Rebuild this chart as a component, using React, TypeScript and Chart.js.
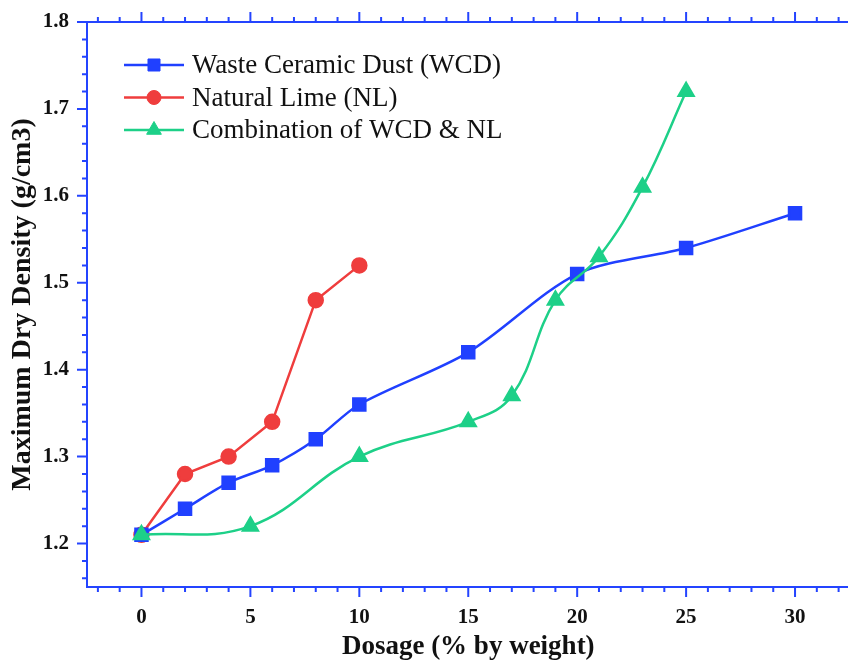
import React, { useEffect, useRef } from 'react';
import { Chart, registerables } from 'chart.js';
import { drawPoint } from 'chart.js/helpers';

Chart.register(...registerables);

const seriesLabels = ['Waste Ceramic Dust (WCD)', 'Natural Lime (NL)', 'Combination of WCD & NL'];
const wcdX = [0, 2, 4, 6, 8, 10, 15, 20, 25, 30];
const wcdY = [1.21, 1.24, 1.27, 1.29, 1.32, 1.36, 1.42, 1.51, 1.54, 1.58];
const nlX = [0, 2, 4, 6, 8, 10];
const nlY = [1.21, 1.28, 1.30, 1.34, 1.48, 1.52];
const comboX = [0, 5, 10, 15, 17, 19, 21, 23, 25];
const comboY = [1.21, 1.22, 1.30, 1.34, 1.37, 1.48, 1.53, 1.61, 1.72];
const xTickValues = [0, 5, 10, 15, 20, 25, 30];
const yTickValues = [1.2, 1.3, 1.4, 1.5, 1.6, 1.7, 1.8];

const AXIS = '#2444ff';
const BLUE = '#2040ff';
const RED = '#ef3d3d';
const GREEN = '#1dd088';
const SERIF = '"Liberation Serif", "Times New Roman", serif';

const toPoints = (xs: number[], ys: number[]) => xs.map((x, i) => ({ x, y: ys[i] }));

const framePlugin = {
  id: 'frameTicks',
  afterDraw(chart: any) {
    const { ctx, chartArea } = chart;
    const { left, right, top, bottom } = chartArea;
    const xs = chart.scales.x;
    const ys = chart.scales.y;
    ctx.save();
    ctx.strokeStyle = AXIS;
    ctx.lineWidth = 2;
    ctx.beginPath();
    ctx.moveTo(left, top);
    ctx.lineTo(right, top);
    ctx.lineTo(right, bottom);
    ctx.lineTo(left, bottom);
    ctx.closePath();
    ctx.stroke();
    ctx.beginPath();
    for (let v = -2; v <= 32; v++) {
      const p = xs.getPixelForValue(v);
      const len = v % 5 === 0 ? 10 : 5;
      ctx.moveTo(p, bottom);
      ctx.lineTo(p, bottom + len);
      ctx.moveTo(p, top);
      ctx.lineTo(p, top - len);
    }
    for (let k = 58; k <= 90; k++) {
      const v = k / 50;
      const p = ys.getPixelForValue(v);
      const len = k % 5 === 0 ? 10 : 5;
      ctx.moveTo(left, p);
      ctx.lineTo(left - len, p);
      ctx.moveTo(right, p);
      ctx.lineTo(right + len, p);
    }
    ctx.stroke();
    ctx.restore();
  },
};

const legendPlugin = {
  id: 'insideLegend',
  afterDraw(chart: any) {
    const { ctx } = chart;
    ctx.save();
    chart.data.datasets.forEach((ds: any, i: number) => {
      const y = 65 + i * 32.5;
      ctx.strokeStyle = ds.borderColor;
      ctx.lineWidth = 2.5;
      ctx.beginPath();
      ctx.moveTo(124, y);
      ctx.lineTo(184, y);
      ctx.stroke();
      ctx.fillStyle = ds.backgroundColor;
      ctx.strokeStyle = ds.borderColor;
      ctx.lineWidth = 1;
      drawPoint(ctx, { pointStyle: ds.pointStyle, radius: ds.pointRadius, rotation: 0, borderWidth: 1 }, 154, y);
      ctx.fillStyle = '#111';
      ctx.font = `27px ${SERIF}`;
      ctx.textBaseline = 'middle';
      ctx.textAlign = 'left';
      ctx.fillText(ds.label, 192, y + 1);
    });
    ctx.restore();
  },
};

export default function App() {
  const ref = useRef<HTMLCanvasElement | null>(null);
  useEffect(() => {
    if (!ref.current) return;
    const chart = new Chart(ref.current, {
      type: 'line',
      data: {
        datasets: [
          { label: seriesLabels[0], data: toPoints(wcdX, wcdY), borderColor: BLUE, backgroundColor: BLUE, borderWidth: 2.5, pointStyle: 'rect', pointRadius: 8.5, tension: 0.3, order: 1 },
          { label: seriesLabels[1], data: toPoints(nlX, nlY), borderColor: RED, backgroundColor: RED, borderWidth: 2.5, pointStyle: 'circle', pointRadius: 7, tension: 0, order: 2 },
          { label: seriesLabels[2], data: toPoints(comboX, comboY), borderColor: GREEN, backgroundColor: GREEN, borderWidth: 2.5, pointStyle: 'triangle', pointRadius: 8.5, tension: 0.4, order: 0 },
        ],
      },
      options: {
        animation: false,
        responsive: false,
        devicePixelRatio: 1,
        layout: { autoPadding: false, padding: { top: 22, right: 2.5, left: 0, bottom: 0 } },
        plugins: { legend: { display: false }, tooltip: { enabled: false } },
        scales: {
          x: {
            type: 'linear',
            min: -2.5,
            max: 32.5,
            afterBuildTicks: (s: any) => { s.ticks = xTickValues.map((v) => ({ value: v })); },
            afterFit: (s: any) => { s.height = 76; s.paddingLeft = 0; s.paddingRight = 0; },
            grid: { display: true, drawOnChartArea: false, drawTicks: true, tickLength: 10, tickColor: 'rgba(0,0,0,0)', color: 'rgba(0,0,0,0)' },
            border: { display: false },
            ticks: { padding: 8, color: '#111', font: { family: SERIF, size: 21, weight: 'bold' }, callback: (v: any) => String(v), maxRotation: 0 },
            title: { display: true, text: 'Dosage (% by weight)', color: '#111', font: { family: SERIF, size: 27, weight: 'bold' }, padding: { top: 0, bottom: 0 } },
          },
          y: {
            type: 'linear',
            min: 1.15,
            max: 1.8,
            afterBuildTicks: (s: any) => { s.ticks = yTickValues.map((v) => ({ value: v })); },
            afterFit: (s: any) => { s.width = 87; s.paddingTop = 0; s.paddingBottom = 0; },
            grid: { display: true, drawOnChartArea: false, drawTicks: true, tickLength: 10, tickColor: 'rgba(0,0,0,0)', color: 'rgba(0,0,0,0)' },
            border: { display: false },
            ticks: { padding: 8, color: '#111', font: { family: SERIF, size: 21, weight: 'bold' }, callback: (v: any) => Number(v).toFixed(1) },
            title: { display: true, text: 'Maximum Dry Density (g/cm3)', color: '#111', font: { family: SERIF, size: 28, weight: 'bold' }, padding: { top: 6, bottom: 0 } },
          },
        },
      },
      plugins: [framePlugin, legendPlugin],
    });
    return () => chart.destroy();
  }, []);
  return (
    <div style={{ position: 'fixed', left: 0, top: 0, width: 848, height: 663, overflow: 'hidden', background: '#fff' }}>
      <div style={{ position: 'absolute', left: 0, top: 0, width: 852, height: 663 }}>
        <canvas ref={ref} width={852} height={663} style={{ width: 852, height: 663, display: 'block' }} />
      </div>
    </div>
  );
}
